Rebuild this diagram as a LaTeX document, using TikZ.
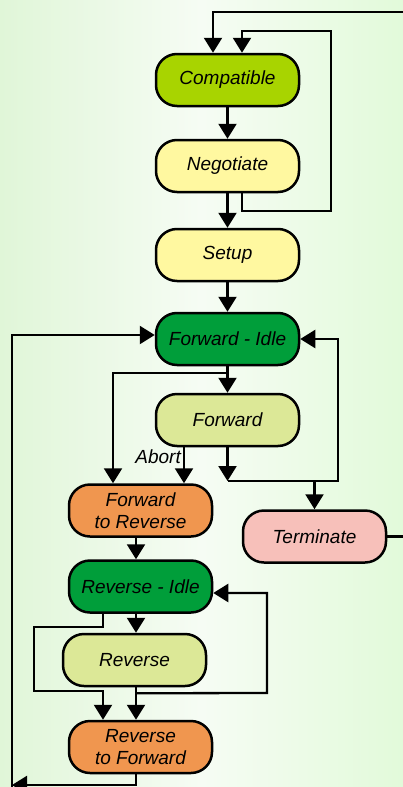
\documentclass[tikz,border=0pt]{standalone}
\usepackage{fontspec}
\setmainfont{Liberation Sans}
\usetikzlibrary{arrows.meta}
\definecolor{bgL}{HTML}{E0F6D8}
\definecolor{bgM}{HTML}{F6FCF4}
\definecolor{bgR}{HTML}{E2FADA}
\definecolor{cLime}{HTML}{A8D400}
\definecolor{cYel}{HTML}{FFF8A0}
\definecolor{cGreen}{HTML}{009E3A}
\definecolor{cPale}{HTML}{DCE897}
\definecolor{cOrange}{HTML}{F0964F}
\definecolor{cPink}{HTML}{F7C0BA}
\begin{document}
\begin{tikzpicture}[x=1pt,y=-1pt,
  box/.style={draw=black, line width=2.5pt, rounded corners=21pt,
    minimum width=143pt, minimum height=52pt, inner sep=0pt,
    font=\fontsize{19}{22}\selectfont\itshape, align=center},
  conn/.style={line width=2.3pt, draw=black},
  arr/.style={conn, -{Triangle[width=18pt,length=15pt]}}]
\useasboundingbox (0,0) rectangle (403,787);
\clip (0,0) rectangle (403,787);
\shade[left color=bgL, right color=bgR, middle color=bgM] (0,0) rectangle (403,787);

% nodes
\node[box, fill=cLime]   (comp) at (227.5,80)  {Compatible};
\node[box, fill=cYel]    (neg)  at (227.5,166) {Negotiate};
\node[box, fill=cYel]    (setup) at (227.5,255) {Setup};
\node[box, fill=cGreen]  (fi)   at (227.5,339) {Forward - Idle};
\node[box, fill=cPale]   (fwd)  at (227.5,420) {Forward};
\node[box, fill=cOrange] (f2r)  at (140.5,510.5) {Forward\\to Reverse};
\node[box, fill=cPink]   (term) at (314.5,536.5) {Terminate};
\node[box, fill=cGreen]  (ri)   at (140.5,586.5) {Reverse - Idle};
\node[box, fill=cPale]   (rev)  at (134.5,660) {Reverse};
\node[box, fill=cOrange] (r2f)  at (140.5,747) {Reverse\\to Forward};
\node[font=\fontsize{19}{22}\selectfont\itshape, anchor=east, inner sep=0pt] (abort) at (181,457) {Abort};

% coordinates
\coordinate (tr) at (406,12);
\coordinate (lb) at (331,211);
\coordinate (lt) at (331,31);
\coordinate (j)  at (227.5,481);
\coordinate (jr) at (338,481);
\coordinate (er) at (406,536.5);
\coordinate (ll1) at (34,627);
\coordinate (ll2) at (34,691);
\coordinate (rr) at (267,693);
\coordinate (bl) at (12,785);
\coordinate (blv) at (12,792);

% connectors
\draw[arr] (tr) -| ([xshift=-14.5pt]comp.north);
\draw[arr] ([xshift=14.5pt]neg.south) |- (lb) -- (lt) -| ([xshift=14.5pt]comp.north);
\draw[arr] (comp.south) -- (neg.north);
\draw[arr] (neg.south) -- (setup.north);
\draw[arr] (setup.south) -- (fi.north);
\draw[arr] (fi.south) -- (fwd.north);
\draw[arr] ([yshift=-7pt]fi.south) -| ([xshift=-27.5pt]f2r.north);
\draw[arr] ([xshift=-43.5pt]fwd.south) -- ([xshift=43.5pt]f2r.north);
\draw[arr] (fwd.south) -- (j);
\draw[arr] (j) -- (jr) |- (fi.east);
\draw[arr] (term.north |- j) -- (term.north);
\draw[conn] (term.east) -- (er);
\draw[arr] ([xshift=-4.5pt]f2r.south) -- ([xshift=-4.5pt]ri.north);
\draw[arr] ([xshift=-4.5pt]ri.south) -- ([xshift=-4.5pt]ri.south |- rev.north);
\draw[arr] ([xshift=-37.5pt]ri.south) |- (ll1) -- (ll2) -| ([xshift=-37.5pt]r2f.north);
\draw[arr] ([xshift=1.5pt]rev.south) -- ([xshift=1.5pt]rev.south |- r2f.north);
\draw[arr] ([xshift=1.5pt,yshift=-6pt]rev.south) -- (rr) |- ([yshift=-6.5pt]ri.east);
\draw[arr] ([xshift=-4.5pt]r2f.south) |- (bl);
\draw[arr] (blv) |- ([yshift=4pt]fi.west);
\end{tikzpicture}
\end{document}
